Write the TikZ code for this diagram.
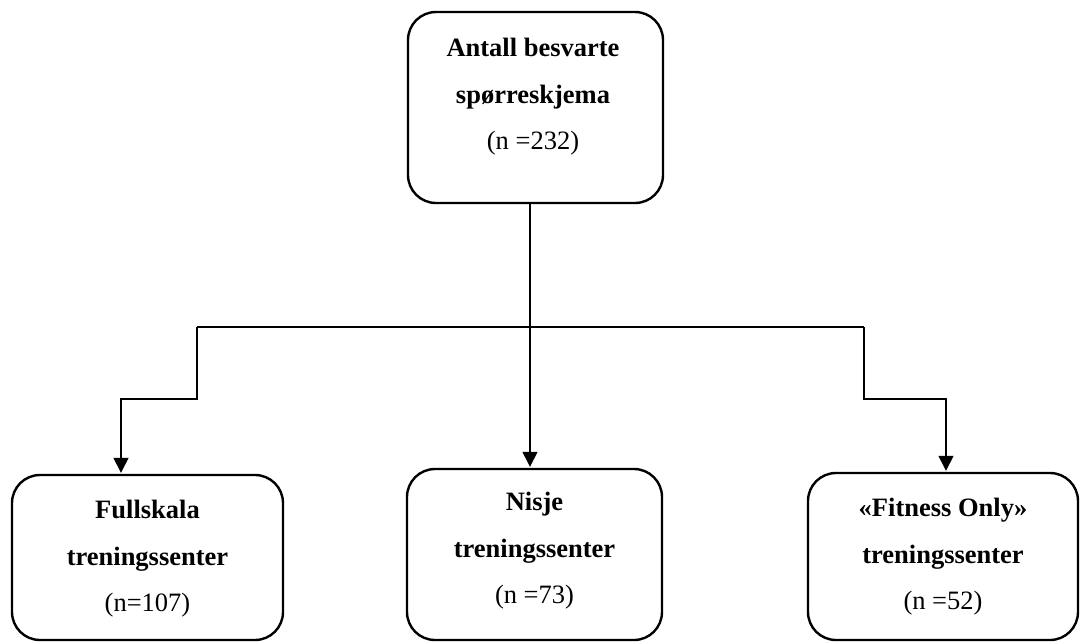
\documentclass[tikz,border=0pt]{standalone}
\usepackage{fontspec}
\setmainfont{Liberation Serif}
\usetikzlibrary{arrows.meta}
\begin{document}
\begin{tikzpicture}[x=1pt,y=-1pt,
  box/.style={draw=black, line width=2.4pt, rounded corners=28pt, inner sep=0pt},
  txt/.style={align=center, font=\fontsize{26.5}{46.5}\selectfont, inner sep=0pt},
  conn/.style={draw=black, line width=1.4pt},
  arr/.style={conn, -{Triangle[length=15pt,width=15pt]}, shorten >=1pt}]
\useasboundingbox (0,0) rectangle (1080,643);
\node[box, minimum width=255pt, minimum height=191pt] (top) at (535.5,107.5) {};
\node[txt] (topT) at (533,97) {\textbf{Antall besvarte}\\\textbf{spørreskjema}\\(n =232)};
\node[box, minimum width=271pt, minimum height=165pt] (full) at (147.5,557.5) {};
\node[txt] (fullT) at (147.5,559) {\textbf{Fullskala}\\\textbf{treningssenter}\\(n=107)};
\node[box, minimum width=255pt, minimum height=171pt] (nis) at (534.5,554.5) {};
\node[txt] (nisT) at (534.5,551) {\textbf{Nisje}\\\textbf{treningssenter}\\(n =73)};
\node[box, minimum width=270pt, minimum height=167pt] (fit) at (943,556.5) {};
\node[txt] (fitT) at (943,557) {\textbf{«Fitness Only»}\\\textbf{treningssenter}\\(n =52)};
\coordinate (j) at (530,327);
\coordinate (l1) at (197,327);
\coordinate (l2) at (121,399);
\coordinate (r1) at (864,327);
\coordinate (r2) at (946,399);
\draw[conn] (top.south -| j) -- (j);
\draw[conn] (l1) -- (r1);
\draw[arr] (j) -- (nis.north -| j);
\draw[arr] (l1) |- (l2) -- (full.north -| l2);
\draw[arr] (r1) |- (r2) -- (fit.north -| r2);
\end{tikzpicture}
\end{document}
